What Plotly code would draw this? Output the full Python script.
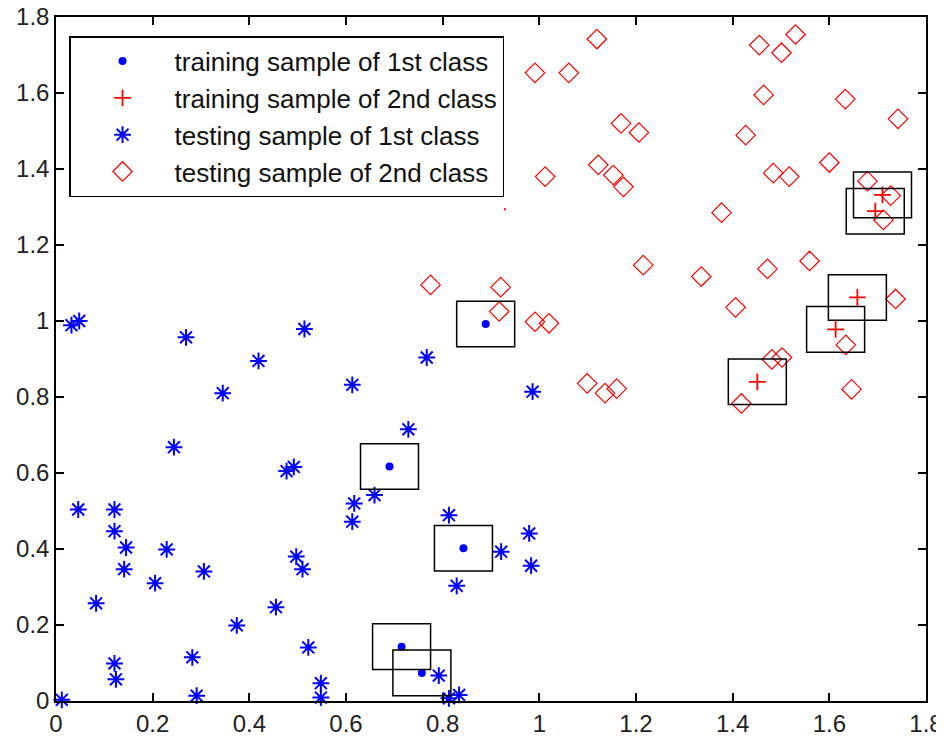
import plotly.graph_objects as go

# training sample of 1st class
train1_x = [0.889, 0.690, 0.843, 0.715, 0.757]
train1_y = [0.992, 0.617, 0.402, 0.143, 0.074]

# training sample of 2nd class
train2_x = [1.451, 1.613, 1.658, 1.695, 1.710]
train2_y = [0.840, 0.978, 1.062, 1.289, 1.332]

# testing sample of 1st class
test1_x = [0.032, 0.048, 0.269, 0.419, 0.514, 0.345, 0.244, 0.477, 0.492,
           0.012, 0.046, 0.121, 0.121, 0.145, 0.141, 0.229, 0.205, 0.083,
           0.306, 0.374, 0.455, 0.497, 0.510, 0.522, 0.121, 0.124, 0.282,
           0.291, 0.548, 0.548, 0.617, 0.613, 0.659, 0.813, 0.921, 0.979,
           0.983, 0.829, 0.792, 0.813, 0.834, 0.767, 0.613, 0.986, 0.729]
test1_y = [0.989, 1.000, 0.957, 0.895, 0.979, 0.810, 0.668, 0.605, 0.616,
           0.003, 0.504, 0.504, 0.447, 0.404, 0.347, 0.399, 0.310, 0.257,
           0.341, 0.199, 0.247, 0.380, 0.347, 0.141, 0.099, 0.057, 0.115,
           0.014, 0.047, 0.009, 0.520, 0.472, 0.542, 0.489, 0.393, 0.441,
           0.356, 0.303, 0.067, 0.007, 0.016, 0.904, 0.832, 0.814, 0.715]

# testing sample of 2nd class
test2_x = [1.119, 0.991, 1.061, 1.169, 1.206, 1.012, 1.122, 1.153, 1.174,
           0.775, 0.920, 0.917, 0.991, 1.020, 1.099, 1.136, 1.160,
           1.215, 1.335, 1.406, 1.472, 1.559, 1.377,
           1.427, 1.455, 1.464, 1.501, 1.530, 1.633, 1.742, 1.600, 1.484, 1.517,
           1.679, 1.727, 1.712, 1.737, 1.634, 1.481, 1.502, 1.418, 1.646]
test2_y = [1.742, 1.653, 1.653, 1.520, 1.496, 1.380, 1.411, 1.384, 1.353,
           1.095, 1.089, 1.025, 0.998, 0.994, 0.836, 0.810, 0.822,
           1.147, 1.117, 1.036, 1.137, 1.158, 1.285,
           1.489, 1.726, 1.595, 1.706, 1.754, 1.584, 1.532, 1.417, 1.389, 1.380,
           1.368, 1.330, 1.266, 1.058, 0.937, 0.899, 0.904, 0.783, 0.820]

# stray point
stray_x = [0.929]
stray_y = [1.294]

x_ticks = [0, 0.2, 0.4, 0.6, 0.8, 1, 1.2, 1.4, 1.6, 1.8]
x_tick_labels = ["0", "0.2", "0.4", "0.6", "0.8", "1", "1.2", "1.4", "1.6", "1.8"]
y_ticks = x_ticks
y_tick_labels = x_tick_labels

BOX_HALF = 0.06
BLUE = "#0000FF"
RED = "#FF0000"
FONT = "Liberation Sans, Arial, sans-serif"

fig = go.Figure()

fig.add_trace(go.Scatter(
    x=train1_x, y=train1_y, mode="markers", name="training sample of 1st class",
    legendgroup="a",
    marker=dict(symbol="circle", size=8, color=BLUE), cliponaxis=False))
fig.add_trace(go.Scatter(
    x=train2_x, y=train2_y, mode="markers", name="training sample of 2nd class",
    legendgroup="b",
    marker=dict(symbol="cross-thin-open", size=12, color=RED,
                line=dict(color=RED, width=1.8)), cliponaxis=False))
fig.add_trace(go.Scatter(
    x=test1_x, y=test1_y, mode="markers", name="testing sample of 1st class",
    legendgroup="c",
    marker=dict(symbol="asterisk-open", size=14, color=BLUE,
                line=dict(color=BLUE, width=2)), cliponaxis=False))
fig.add_trace(go.Scatter(
    x=test2_x, y=test2_y, mode="markers", name="testing sample of 2nd class",
    legendgroup="d",
    marker=dict(symbol="diamond-open", size=15, color=RED,
                line=dict(color=RED, width=1.2)), cliponaxis=False))
fig.add_trace(go.Scatter(
    x=stray_x, y=stray_y, mode="markers", showlegend=False,
    marker=dict(symbol="square", size=2, color=RED), cliponaxis=False))

# boxes around training samples
for cx, cy in list(zip(train1_x, train1_y)) + list(zip(train2_x, train2_y)):
    fig.add_shape(type="rect", xref="x", yref="y",
                  x0=cx - BOX_HALF, x1=cx + BOX_HALF,
                  y0=cy - BOX_HALF, y1=cy + BOX_HALF,
                  line=dict(color="black", width=1.5), fillcolor="rgba(0,0,0,0)")

axis_common = dict(
    range=[0, 1.8], showgrid=False, zeroline=False, automargin=False,
    showline=True, linecolor="black", linewidth=1.5, mirror="ticks",
    ticks="inside", ticklen=8, tickwidth=1.5, tickcolor="black",
    ticklabeloverflow="allow",
    tickfont=dict(family=FONT, size=24, color="#222222"),
)
fig.update_xaxes(tickvals=x_ticks, ticktext=x_tick_labels, **axis_common)
fig.update_yaxes(tickvals=y_ticks, ticktext=y_tick_labels, **axis_common)

fig.update_layout(
    width=936, height=732,
    margin=dict(l=48, r=18, t=9, b=39, autoexpand=False),
    paper_bgcolor="white", plot_bgcolor="white",
    font=dict(family=FONT, size=24, color="#111111"),
    legend=dict(x=0.015, y=0.972, xanchor="left", yanchor="top",
                bordercolor="black", borderwidth=1.5, bgcolor="white",
                font=dict(family=FONT, size=26, color="#111111"),
                itemwidth=94, traceorder="grouped", tracegroupgap=0),
)

fig.write_html("out.html")
